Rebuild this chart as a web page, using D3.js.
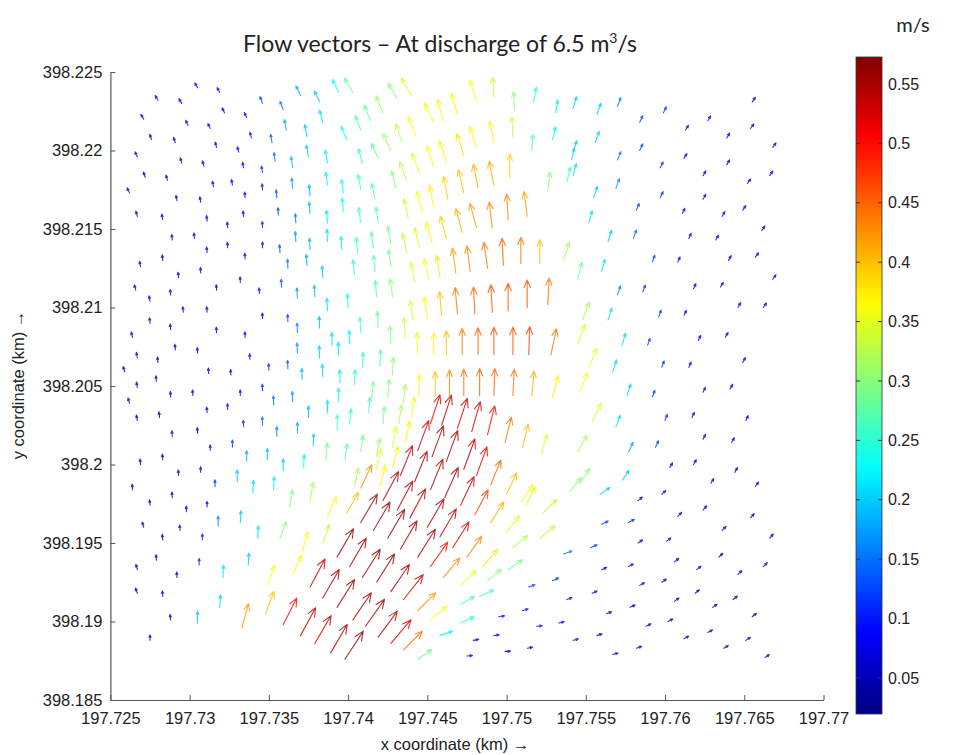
<!DOCTYPE html>
<html>
<head>
<meta charset="utf-8">
<script src="https://cdn.jsdelivr.net/npm/d3@7"></script>
<style>
  body { margin: 0; background: #fff; }
  svg { display: block; }
</style>
</head>
<body>
<svg id="chart" width="958" height="755"></svg>
<script>
// Velocity vectors: [easting (km), northing (km), speed (m/s), heading (deg clockwise from north)]
const westBank = [
  [197.7280,398.2232,.08,-30],[197.7305,398.2240,.08,-30],[197.7319,398.2237,.09,-28],[197.7295,398.2230,.08,-30],
  [197.7271,398.2220,.07,-30],[197.7322,398.2224,.08,-25],[197.7336,398.2221,.09,-25],[197.7346,398.2230,.12,-20],
  [197.7359,398.2226,.15,-20],[197.7370,398.2235,.18,-25],[197.7382,398.2231,.20,-25],[197.7394,398.2237,.24,-25],
  [197.7299,398.2216,.08,-25],[197.7313,398.2214,.08,-25],[197.7361,398.2213,.18,-10],[197.7374,398.2209,.20,-10],
  [197.7384,398.2218,.21,-15],[197.7276,398.2207,.07,-20],[197.7291,398.2205,.08,-20],[197.7339,398.2208,.10,-15],
  [197.7352,398.2205,.14,-10],[197.7317,398.2202,.08,-15],[197.7331,398.2199,.09,-15],[197.7267,398.2196,.07,-25],
  [197.7295,398.2192,.07,-15],[197.7309,398.2190,.08,-15],[197.7354,398.2193,.15,-8],[197.7365,398.2189,.19,-8],
  [197.7375,398.2196,.20,-10],[197.7387,398.2192,.22,-10],[197.7334,398.2189,.09,-10],[197.7346,398.2186,.11,-10],
  [197.7272,398.2183,.06,-20],[197.7286,398.2181,.07,-15],[197.7262,398.2173,.06,-25],[197.7315,398.2177,.08,-10],
  [197.7327,398.2178,.08,-10],[197.7346,398.2175,.10,-5],[197.7365,398.2176,.17,-5],[197.7376,398.2171,.19,-5],
  [197.7387,398.2178,.22,-8],[197.7397,398.2173,.23,-8],[197.7292,398.2168,.07,-10],[197.7307,398.2167,.07,-10],
  [197.7335,398.2170,.09,-5],[197.7355,398.2170,.13,-5],[197.7267,398.2158,.06,-15],[197.7283,398.2156,.07,-10],
  [197.7311,398.2155,.07,-5],[197.7324,398.2151,.08,-5],[197.7334,398.2158,.09,-5],[197.7346,398.2151,.10,-3],
  [197.7356,398.2159,.12,-3],[197.7367,398.2154,.15,-3],[197.7376,398.2160,.19,-5],[197.7387,398.2154,.21,-5],
  [197.7397,398.2161,.23,-5],[197.7289,398.2143,.07,-5],[197.7303,398.2144,.07,-5],[197.7324,398.2138,.08,-3],
  [197.7335,398.2131,.09,-3],[197.7346,398.2138,.10,0],[197.7357,398.2135,.13,-3],[197.7367,398.2142,.17,-3],
  [197.7376,398.2137,.19,-3],[197.7387,398.2142,.21,-3],[197.7396,398.2137,.22,-3],[197.7269,398.2126,.06,-10],
  [197.7283,398.2130,.07,-5],[197.7311,398.2135,.07,-5],[197.7307,398.2122,.07,-3],[197.7293,398.2119,.07,-5],
  [197.7362,398.2125,.15,-2],[197.7374,398.2127,.18,-3],[197.7384,398.2119,.20,-3],[197.7266,398.2111,.06,-15],
  [197.7275,398.2104,.06,-10],[197.7288,398.2108,.07,-5],[197.7317,398.2111,.07,-3],[197.7332,398.2116,.08,-3],
  [197.7344,398.2109,.09,-3],[197.7358,398.2113,.13,-3],[197.7368,398.2106,.17,-3],[197.7379,398.2107,.19,-3],
  [197.7296,398.2097,.07,-5],[197.7311,398.2097,.07,-3],[197.7346,398.2093,.09,-2],[197.7362,398.2091,.12,-2],
  [197.7387,398.2098,.21,-3],[197.7400,398.2100,.23,-3],[197.7275,398.2090,.06,-5],[197.7288,398.2086,.06,-5],
  [197.7317,398.2084,.07,-3],[197.7335,398.2081,.08,-3],[197.7368,398.2084,.16,-2],[197.7382,398.2087,.19,-2],
  [197.7390,398.2076,.21,-2],[197.7401,398.2077,.22,-2],[197.7264,398.2081,.05,-15],[197.7267,398.2068,.05,-10],
  [197.7291,398.2073,.06,-5],[197.7305,398.2071,.07,-3],[197.7338,398.2067,.09,-2],[197.7350,398.2060,.11,-2],
  [197.7362,398.2061,.14,-2],[197.7368,398.2071,.17,-2],[197.7382,398.2068,.20,-2],[197.7394,398.2070,.21,-2],
  [197.7259,398.2059,.05,-15],[197.7280,398.2065,.05,-5],[197.7312,398.2058,.07,-3],[197.7326,398.2057,.08,-3],
  [197.7371,398.2054,.19,-2],[197.7384,398.2056,.21,-2],[197.7395,398.2052,.22,-2],[197.7267,398.2049,.05,-10],
  [197.7279,398.2053,.05,-5],[197.7288,398.2043,.06,-3],[197.7302,398.2044,.06,-3],[197.7332,398.2044,.09,-2],
  [197.7346,398.2047,.11,-2],[197.7353,398.2038,.15,-2],[197.7365,398.2040,.17,-2],[197.7375,398.2030,.19,0],
  [197.7387,398.2033,.21,0],[197.7394,398.2040,.23,0],[197.7262,398.2039,.05,-15],[197.7311,398.2033,.07,-3],
  [197.7324,398.2035,.10,-2],[197.7334,398.2024,.11,-2],[197.7346,398.2025,.14,-2],[197.7267,398.2028,.05,-10],
  [197.7281,398.2030,.05,-5],[197.7289,398.2018,.06,-3],[197.7305,398.2020,.06,-3],[197.7355,398.2018,.16,0],
  [197.7368,398.2020,.18,0],[197.7378,398.2012,.20,2],[197.7393,398.2022,.26,2],[197.7313,398.2009,.09,0],
  [197.7327,398.2011,.12,0],[197.7269,398.2000,.05,-5],[197.7283,398.2003,.05,-3],[197.7336,398.2002,.18,0],
  [197.7349,398.2003,.19,0],[197.7359,398.1996,.20,0],[197.7372,398.1998,.22,2],[197.7386,398.2003,.29,5],
  [197.7293,398.1993,.06,-3],[197.7307,398.1995,.07,-2],[197.7330,398.1989,.20,0],[197.7316,398.1986,.11,0],
  [197.7264,398.1984,.05,-5],[197.7289,398.1979,.05,-3],[197.7340,398.1982,.21,2],[197.7353,398.1984,.22,3],
  [197.7275,398.1974,.05,-5],[197.7298,398.1970,.06,-3],[197.7311,398.1973,.09,0],[197.7271,398.1960,.05,-15],
  [197.7294,398.1958,.05,-5],[197.7318,398.1961,.16,0],[197.7332,398.1963,.20,3],[197.7283,398.1952,.05,-5],
  [197.7308,398.1952,.10,0],[197.7343,398.1953,.21,3],[197.7279,398.1939,.05,-3],[197.7306,398.1936,.11,0],
  [197.7337,398.1936,.20,3],[197.7267,398.1933,.04,-15],[197.7292,398.1928,.07,-3],[197.7321,398.1928,.21,3],
  [197.7267,398.1918,.05,-20],[197.7283,398.1916,.08,-3],[197.7319,398.1909,.21,3],[197.7288,398.1901,.06,-5],
  [197.7305,398.1899,.20,0],[197.7275,398.1888,.06,0]
];

const channel = [
  [197.7403,398.2237,.28,-30],[197.7422,398.2224,.31,-22],[197.7431,398.2233,.30,-30],[197.7440,398.2235,.34,-30],
  [197.7481,398.2232,.36,-18],[197.7492,398.2234,.33,-3],[197.7505,398.2226,.30,-3],[197.7517,398.2231,.25,11],
  [197.7531,398.2224,.22,9],[197.7542,398.2227,.20,17],[197.7399,398.2207,.24,-22],[197.7408,398.2213,.26,-21],
  [197.7414,398.2219,.28,-21],[197.7427,398.2200,.31,-25],[197.7434,398.2205,.33,-18],[197.7443,398.2209,.36,-22],
  [197.7454,398.2218,.36,-25],[197.7460,398.2219,.37,-15],[197.7469,398.2223,.37,-16],[197.7481,398.2202,.37,-17],
  [197.7492,398.2205,.37,-11],[197.7504,398.2209,.33,-3],[197.7516,398.2200,.27,4],[197.7529,398.2207,.22,14],
  [197.7541,398.2194,.21,13],[197.7419,398.2195,.28,-24],[197.7473,398.2197,.38,-18],[197.7462,398.2193,.37,-18],
  [197.7454,398.2190,.36,-18],[197.7445,398.2186,.35,-21],[197.7437,398.2181,.33,-21],[197.7430,398.2176,.30,-13],
  [197.7502,398.2183,.39,0],[197.7492,398.2178,.41,-11],[197.7482,398.2176,.41,-11],[197.7473,398.2173,.40,-13],
  [197.7463,398.2169,.39,-11],[197.7454,398.2164,.37,-11],[197.7447,398.2161,.36,-16],[197.7438,398.2157,.33,-13],
  [197.7526,398.2175,.30,8],[197.7538,398.2180,.26,14],[197.7409,398.2192,.25,-15],[197.7408,398.2175,.26,-10],
  [197.7417,398.2169,.27,-12],[197.7408,398.2154,.26,-8],[197.7419,398.2154,.27,-8],[197.7406,398.2135,.26,-5],
  [197.7416,398.2138,.27,-8],[197.7427,398.2141,.29,-10],[197.7404,398.2121,.25,-5],[197.7417,398.2123,.27,-5],
  [197.7427,398.2126,.29,-8],[197.7418,398.2107,.27,-5],[197.7428,398.2107,.30,-8],
  [197.7513,398.2158,.42,-7],[197.7501,398.2156,.43,-3],[197.7491,398.2151,.43,-7],[197.7481,398.2151,.42,-15],
  [197.7472,398.2148,.41,-15],[197.7462,398.2144,.39,-15],[197.7453,398.2141,.37,-15],[197.7445,398.2138,.35,-13],
  [197.7437,398.2135,.33,-12],[197.7521,398.2128,.40,0],[197.7509,398.2128,.44,0],[197.7498,398.2127,.45,-3],
  [197.7488,398.2125,.44,-8],[197.7477,398.2123,.43,-7],[197.7468,398.2122,.42,-8],[197.7458,398.2119,.38,-8],
  [197.7451,398.2118,.36,-13],[197.7442,398.2116,.34,-10],[197.7536,398.2130,.32,17],[197.7545,398.2118,.29,13],
  [197.7526,398.2102,.44,3],[197.7513,398.2100,.46,0],[197.7501,398.2098,.46,0],[197.7491,398.2097,.46,-3],
  [197.7480,398.2096,.45,-3],[197.7469,398.2096,.44,-5],[197.7459,398.2095,.40,-5],[197.7450,398.2093,.37,-8],
  [197.7441,398.2092,.34,-8],[197.7408,398.2084,.26,-3],[197.7419,398.2087,.28,-3],[197.7427,398.2077,.30,-3],
  [197.7436,398.2081,.33,-3],[197.7444,398.2071,.35,-3],
  [197.7454,398.2070,.37,0],[197.7462,398.2070,.40,0],[197.7472,398.2070,.44,0],[197.7482,398.2070,.45,0],
  [197.7492,398.2070,.46,0],[197.7504,398.2070,.46,0],[197.7514,398.2070,.47,2],[197.7528,398.2070,.44,12],
  [197.7445,398.2044,.36,0],[197.7455,398.2044,.40,0],[197.7464,398.2044,.43,0],[197.7473,398.2044,.44,0],
  [197.7483,398.2044,.45,0],[197.7492,398.2044,.45,2],[197.7504,398.2044,.44,3],[197.7516,398.2044,.41,5],
  [197.7529,398.2043,.37,15],
  [197.7409,398.2062,.25,3],[197.7420,398.2063,.27,3],[197.7428,398.2057,.30,3],[197.7404,398.2051,.25,3],
  [197.7415,398.2042,.29,5],[197.7425,398.2043,.30,5],[197.7435,398.2039,.32,5],[197.7401,398.2026,.25,5],
  [197.7413,398.2033,.26,5],[197.7422,398.2026,.29,5],[197.7432,398.2026,.32,8],[197.7440,398.2030,.35,8],
  [197.7398,398.2003,.27,8],[197.7408,398.2008,.29,8],[197.7418,398.2005,.31,10],[197.7428,398.2011,.35,10],
  [197.7436,398.2014,.37,12],[197.7404,398.1986,.32,12],[197.7418,398.1997,.35,12],[197.7428,398.1998,.37,15],
  [197.7420,398.1986,.37,15],
  [197.7333,398.1896,.42,15],[197.7348,398.1905,.40,20],[197.7349,398.1923,.36,20],[197.7365,398.1930,.36,25],
  [197.7371,398.1944,.36,15],[197.7357,398.1953,.30,20],[197.7384,398.1950,.33,20],[197.7387,398.1967,.36,25],
  [197.7399,398.1969,.40,30],[197.7363,398.1973,.29,10],[197.7376,398.1977,.32,10],[197.7408,398.1985,.43,25]
];

const redCore = [
  [197.7452,398.2026,.51,18],[197.7459,398.2025,.53,18],[197.7469,398.2023,.53,18],[197.7478,398.2021,.52,16],
  [197.7488,398.2019,.50,14],[197.7499,398.2014,.44,14],[197.7510,398.2011,.40,14],[197.7522,398.2007,.34,16],
  [197.7444,398.2009,.53,20],[197.7453,398.2005,.55,20],[197.7462,398.2002,.55,20],[197.7473,398.1997,.54,20],
  [197.7481,398.1993,.51,20],[197.7490,398.1987,.45,22],[197.7500,398.1981,.40,25],[197.7512,398.1974,.35,28],
  [197.7433,398.1993,.54,22],[197.7442,398.1989,.55,22],[197.7452,398.1984,.55,22],[197.7461,398.1979,.55,24],
  [197.7471,398.1974,.53,25],[197.7480,398.1968,.47,28],[197.7490,398.1963,.41,32],[197.7500,398.1957,.35,38],
  [197.7422,398.1977,.55,28],[197.7431,398.1971,.55,28],[197.7439,398.1966,.55,28],[197.7450,398.1960,.55,30],
  [197.7458,398.1954,.54,30],[197.7466,398.1947,.51,32],[197.7475,398.1941,.43,35],[197.7485,398.1935,.38,40],
  [197.7408,398.1963,.55,30],[197.7416,398.1958,.55,30],[197.7425,398.1953,.56,30],[197.7433,398.1946,.55,30],
  [197.7444,398.1941,.55,32],[197.7452,398.1935,.50,35],[197.7460,398.1928,.43,40],[197.7471,398.1923,.36,45],
  [197.7393,398.1941,.55,30],[197.7401,398.1935,.55,30],[197.7409,398.1928,.56,32],[197.7418,398.1925,.56,32],
  [197.7427,398.1919,.55,34],[197.7435,398.1914,.53,38],[197.7444,398.1907,.42,45],[197.7452,398.1901,.36,50],
  [197.7376,398.1922,.53,28],[197.7384,398.1915,.55,30],[197.7393,398.1909,.55,32],[197.7403,398.1901,.55,34],
  [197.7411,398.1897,.55,35],[197.7419,398.1890,.54,36],[197.7427,398.1886,.52,40],[197.7435,398.1882,.44,45],
  [197.7444,398.1876,.28,55],
  [197.7359,398.1898,.50,27],[197.7370,398.1891,.53,28],[197.7379,398.1886,.54,30],[197.7389,398.1880,.55,30],
  [197.7398,398.1876,.56,33]
];

const eastBank = [
  [197.7557,398.2223,.20,20],[197.7570,398.2228,.16,20],[197.7584,398.2218,.12,25],[197.7599,398.2224,.11,25],
  [197.7613,398.2213,.08,30],[197.7627,398.2219,.08,30],[197.7655,398.2231,.07,35],[197.7542,398.2199,.20,18],
  [197.7556,398.2205,.20,18],[197.7570,398.2194,.15,22],[197.7584,398.2200,.12,25],[197.7597,398.2189,.11,25],
  [197.7612,398.2195,.08,30],[197.7639,398.2208,.07,30],[197.7654,398.2214,.07,35],[197.7668,398.2202,.07,35],
  [197.7542,398.2184,.21,15],[197.7555,398.2170,.20,18],[197.7569,398.2176,.17,20],[197.7582,398.2162,.12,22],
  [197.7597,398.2170,.11,25],[197.7624,398.2184,.08,30],[197.7639,398.2191,.07,30],[197.7652,398.2179,.07,35],
  [197.7666,398.2184,.07,35],[197.7552,398.2154,.21,15],[197.7564,398.2142,.20,18],[197.7580,398.2144,.15,20],
  [197.7611,398.2160,.08,25],[197.7624,398.2169,.08,30],[197.7636,398.2158,.07,30],[197.7649,398.2162,.07,35],
  [197.7661,398.2149,.06,35],[197.7615,398.2144,.08,25],[197.7632,398.2143,.07,30],[197.7592,398.2129,.12,20],
  [197.7608,398.2129,.09,25],[197.7640,398.2130,.07,30],[197.7657,398.2132,.06,35],[197.7668,398.2118,.06,35],
  [197.7560,398.2123,.21,15],[197.7570,398.2108,.16,18],[197.7586,398.2110,.12,20],[197.7618,398.2112,.08,25],
  [197.7635,398.2113,.07,30],[197.7646,398.2100,.07,30],[197.7662,398.2100,.06,35],
  [197.7548,398.2092,.32,20],[197.7564,398.2092,.21,18],[197.7596,398.2094,.12,20],[197.7612,398.2095,.08,25],
  [197.7545,398.2077,.35,20],[197.7573,398.2076,.21,15],[197.7589,398.2076,.12,20],[197.7621,398.2079,.08,25],
  [197.7638,398.2081,.07,30],[197.7552,398.2062,.35,22],[197.7567,398.2059,.21,18],[197.7598,398.2062,.11,20],
  [197.7615,398.2062,.08,25],[197.7649,398.2065,.06,30],[197.7546,398.2046,.36,22],[197.7576,398.2044,.20,18],
  [197.7592,398.2043,.12,20],[197.7624,398.2046,.07,25],[197.7641,398.2048,.07,30],[197.7554,398.2027,.35,25],
  [197.7569,398.2024,.21,20],[197.7600,398.2028,.11,20],[197.7617,398.2030,.07,25],[197.7651,398.2028,.06,25],
  [197.7545,398.2008,.32,28],[197.7577,398.2008,.18,25],[197.7594,398.2011,.12,25],[197.7624,398.2016,.07,25],
  [197.7642,398.2014,.06,30],[197.7603,398.1998,.08,30],[197.7618,398.2000,.07,30],[197.7644,398.1995,.06,30],
  [197.7546,398.1988,.30,35],[197.7573,398.1990,.20,35],[197.7629,398.1988,.06,30],[197.7657,398.1986,.06,35]
];

const southEast = [
  [197.7509,398.1976,.36,35],[197.7523,398.1969,.33,45],[197.7540,398.1983,.30,40],[197.7504,398.1947,.32,50],
  [197.7521,398.1953,.33,50],[197.7488,398.1926,.30,50],[197.7501,398.1933,.29,55],[197.7471,398.1911,.27,60],
  [197.7483,398.1916,.26,65],[197.7471,398.1899,.25,65],[197.7458,398.1891,.22,70],
  [197.7536,398.1943,.15,70],[197.7553,398.1947,.12,65],[197.7514,398.1922,.11,70],[197.7529,398.1926,.11,65],
  [197.7495,398.1903,.10,80],[197.7510,398.1907,.10,75],[197.7519,398.1897,.09,85],[197.7533,398.1899,.09,75],
  [197.7479,398.1888,.09,80],[197.7492,398.1891,.09,80],[197.7475,398.1878,.08,85],[197.7499,398.1881,.08,88],
  [197.7513,398.1883,.08,80],[197.7560,398.1962,.12,65],[197.7577,398.1963,.11,60],[197.7559,398.1981,.20,55],
  [197.7583,398.1977,.08,50],[197.7598,398.1981,.08,45],[197.7608,398.1967,.07,45],[197.7624,398.1971,.07,40],
  [197.7654,398.1966,.06,40],[197.7636,398.1958,.07,45],[197.7666,398.1953,.05,40],[197.7583,398.1950,.07,55],
  [197.7601,398.1951,.07,50],[197.7606,398.1938,.06,50],[197.7634,398.1941,.06,45],[197.7577,398.1935,.07,60],
  [197.7560,398.1933,.07,65],[197.7620,398.1933,.06,50],[197.7662,398.1935,.05,45],[197.7646,398.1930,.06,45],
  [197.7538,398.1914,.08,70],[197.7554,398.1918,.07,65],[197.7584,398.1923,.06,60],[197.7598,398.1925,.06,55],
  [197.7606,398.1913,.06,55],[197.7619,398.1918,.06,50],[197.7643,398.1914,.05,50],[197.7563,398.1905,.06,70],
  [197.7578,398.1909,.06,65],[197.7630,398.1909,.05,55],[197.7655,398.1903,.05,50],[197.7588,398.1897,.06,65],
  [197.7602,398.1900,.06,60],[197.7627,398.1893,.05,60],[197.7542,398.1888,.06,75],[197.7557,398.1891,.06,70],
  [197.7612,398.1889,.05,60],[197.7651,398.1888,.05,55],[197.7567,398.1879,.06,75],[197.7582,398.1883,.06,70],
  [197.7637,398.1883,.05,60],[197.7663,398.1877,.05,55]
];

// Axis ticks and labels
const xTicks = [197.725,197.73,197.735,197.74,197.745,197.75,197.755,197.76,197.765,197.77];
const xTickLabels = ["197.725","197.73","197.735","197.74","197.745","197.75","197.755","197.76","197.765","197.77"];
const yTicks = [398.225,398.22,398.215,398.21,398.205,398.2,398.195,398.19,398.185];
const yTickLabels = ["398.225","398.22","398.215","398.21","398.205","398.2","398.195","398.19","398.185"];
const cbTicks = [0.05,0.1,0.15,0.2,0.25,0.3,0.35,0.4,0.45,0.5,0.55];
const cbTickLabels = ["0.05","0.1","0.15","0.2","0.25","0.3","0.35","0.4","0.45","0.5","0.55"];
const speedRange = [0.0197, 0.5727];

const svg = d3.select("#chart");
svg.append("rect").attr("width", 958).attr("height", 755).attr("fill", "#fff");

const plot = { left: 110.4, right: 823.5, top: 72, bottom: 700 };
const x = d3.scaleLinear().domain([197.725, 197.77]).range([plot.left, plot.right]);
const y = d3.scaleLinear().domain([398.185, 398.225]).range([plot.bottom, plot.top]);

// MATLAB-style jet colormap
function jet(t) {
  const c = v => Math.max(0, Math.min(1, v));
  const r = c(Math.min(4 * t - 1.5, -4 * t + 4.5));
  const g = c(Math.min(4 * t - 0.5, -4 * t + 3.5));
  const b = c(Math.min(4 * t + 0.5, -4 * t + 2.5));
  return d3.rgb(r * 255, g * 255, b * 255).toString();
}
const color = d3.scaleSequential(jet).domain(speedRange);

// Axes (inward ticks, left and bottom only)
const tickFont = "'Liberation Sans', Arial, sans-serif";
const xAxis = d3.axisBottom(x).tickValues(xTicks).tickFormat((d, i) => xTickLabels[i])
  .tickSizeInner(-5).tickSizeOuter(0).tickPadding(12);
const yAxis = d3.axisLeft(y).tickValues(yTicks).tickFormat((d, i) => yTickLabels[i])
  .tickSizeInner(-5).tickSizeOuter(0).tickPadding(8);

const gx = svg.append("g").attr("transform", `translate(0,${plot.bottom})`).call(xAxis);
const gy = svg.append("g").attr("transform", `translate(${plot.left},0)`).call(yAxis);
[gx, gy].forEach(g => {
  g.select(".domain").attr("stroke", "#555").attr("stroke-width", 1.2);
  g.selectAll(".tick line").attr("stroke", "#555").attr("stroke-width", 1);
  g.selectAll(".tick text").attr("fill", "#222").style("font-family", tickFont).style("font-size", "16.5px");
});

// Quiver arrows
const quiverScale = 0.0038;   // km of arrow per m/s
const all = [...westBank, ...channel, ...redCore, ...eastBank, ...southEast];
const arrows = svg.append("g").attr("fill", "none").attr("stroke-linecap", "round").attr("stroke-linejoin", "round");
all.forEach(([e, n, s, d]) => {
  const a = d * Math.PI / 180;
  const u = s * Math.sin(a), v = s * Math.cos(a);
  const x0 = x(e), y0 = y(n);
  let x1 = x(e + u * quiverScale), y1 = y(n + v * quiverScale);
  let dx = x1 - x0, dy = y1 - y0;
  let L = Math.hypot(dx, dy);
  const minL = 5.5;
  if (L < minL) { dx *= minL / L; dy *= minL / L; L = minL; x1 = x0 + dx; y1 = y0 + dy; }
  const ux = dx / L, uy = dy / L;
  const h = Math.max(2.6, 0.3 * L), spread = 0.4;
  const hx1 = x1 - h * (ux * Math.cos(spread) - uy * Math.sin(spread));
  const hy1 = y1 - h * (uy * Math.cos(spread) + ux * Math.sin(spread));
  const hx2 = x1 - h * (ux * Math.cos(-spread) - uy * Math.sin(-spread));
  const hy2 = y1 - h * (uy * Math.cos(-spread) + ux * Math.sin(-spread));
  arrows.append("path")
    .attr("d", `M${x0},${y0}L${x1},${y1}M${hx1},${hy1}L${x1},${y1}L${hx2},${hy2}`)
    .attr("stroke", color(s)).attr("stroke-width", 1.1).attr("opacity", 0.82);
});

// Title
const title = svg.append("text").attr("x", 440).attr("y", 52).attr("text-anchor", "middle")
  .attr("fill", "#222").style("font-family", "Lato, 'Open Sans', sans-serif").style("font-size", "23px");
title.append("tspan").text("Flow vectors \u2013 At discharge of 6.5 m");
title.append("tspan").attr("dy", -9).style("font-size", "14px").text("3");
title.append("tspan").attr("dy", 9).text("/s");

// Axis titles
svg.append("text").attr("x", 455).attr("y", 750).attr("text-anchor", "middle").attr("fill", "#222")
  .style("font-family", tickFont).style("font-size", "16.5px").text("x coordinate (km) \u2192");
svg.append("text").attr("transform", "translate(24,385) rotate(-90)").attr("text-anchor", "middle").attr("fill", "#222")
  .style("font-family", tickFont).style("font-size", "16.5px").text("y coordinate (km) \u2192");

// Colorbar
const cb = { x: 856, w: 26, top: 57, bottom: 714 };
const cy = d3.scaleLinear().domain(speedRange).range([cb.bottom, cb.top]);
const grad = svg.append("defs").append("linearGradient").attr("id", "jetgrad")
  .attr("x1", 0).attr("y1", 1).attr("x2", 0).attr("y2", 0);
d3.range(0, 1.0001, 0.02).forEach(t => {
  grad.append("stop").attr("offset", t).attr("stop-color", jet(t));
});
svg.append("rect").attr("x", cb.x).attr("y", cb.top).attr("width", cb.w).attr("height", cb.bottom - cb.top)
  .attr("fill", "url(#jetgrad)").attr("stroke", "#333").attr("stroke-width", 0.8);
const cbAxis = svg.append("g");
cbTicks.forEach((t, i) => {
  const ty = cy(t);
  cbAxis.append("line").attr("x1", cb.x).attr("x2", cb.x + 4).attr("y1", ty).attr("y2", ty).attr("stroke", "#333");
  cbAxis.append("line").attr("x1", cb.x + cb.w - 4).attr("x2", cb.x + cb.w).attr("y1", ty).attr("y2", ty).attr("stroke", "#333");
  cbAxis.append("text").attr("x", cb.x + cb.w + 6).attr("y", ty).attr("dy", "0.35em").attr("fill", "#222")
    .style("font-family", tickFont).style("font-size", "16px").text(cbTickLabels[i]);
});
svg.append("text").attr("x", 913).attr("y", 32).attr("text-anchor", "middle").attr("fill", "#222")
  .style("font-family", "Lato, 'Open Sans', sans-serif").style("font-size", "20px").text("m/s");
</script>
</body>
</html>
